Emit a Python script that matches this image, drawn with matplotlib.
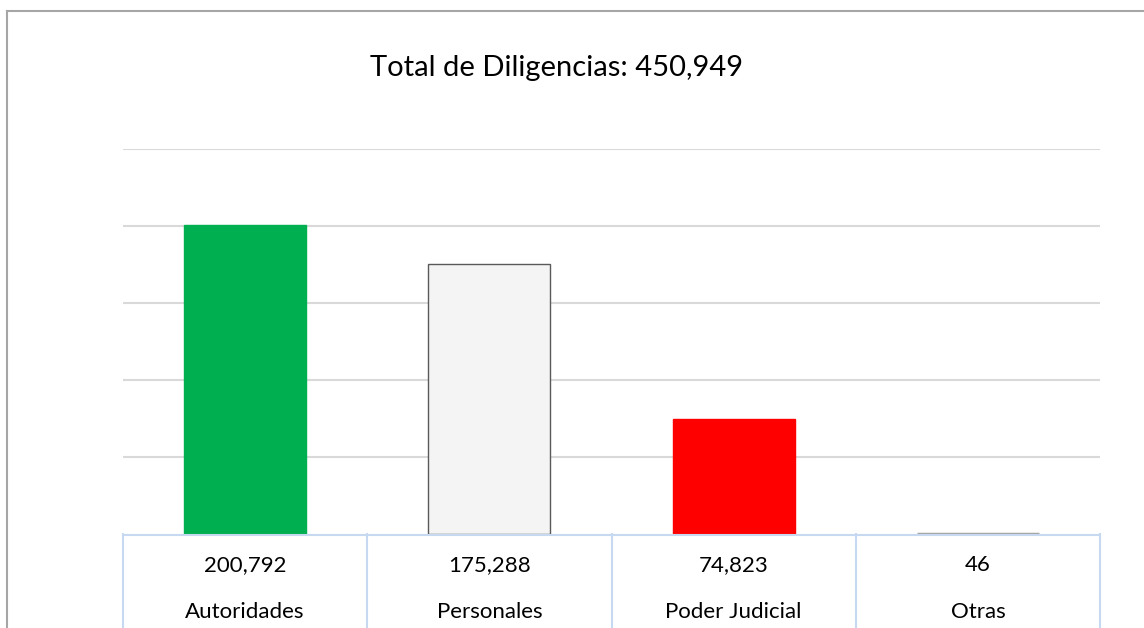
import matplotlib.pyplot as plt
from matplotlib.lines import Line2D
import matplotlib.transforms as mtransforms

categorias = ["Autoridades", "Personales", "Poder Judicial", "Otras"]
valores = [200792, 175288, 74823, 46]
colores = ["#00b050", "#f4f4f4", "#ff0000", "#a6a6a6"]
bordes = ["#00b050", "#595959", "#ff0000", "#a6a6a6"]
total = 450949

plt.rcParams['font.family'] = ['Lato', 'DejaVu Sans']

fig = plt.figure(figsize=(11.44, 6.28), dpi=100)
ax = fig.add_axes([123/1144, 94/628, 977/1144, 385/628])

x = list(range(len(categorias)))
ax.bar(x[:3], valores[:3], width=0.5, color=colores[:3], edgecolor=bordes[:3], linewidth=1, zorder=3)
# the tiny "Otras" bar only shows as a line above the table edge
ax.bar(x[3], valores[3], width=0.5, color=colores[3], edgecolor=bordes[3], linewidth=2.5, zorder=6)

ax.set_xlim(-0.5, len(categorias) - 0.5)
ax.set_ylim(0, 250000)
ax.set_yticks(range(50000, 250001, 50000))
ax.yaxis.grid(True, color="#d9d9d9", linewidth=1.5)
ax.set_axisbelow(True)
ax.tick_params(left=False, bottom=False, labelleft=False, labelbottom=False)
for s in ax.spines.values():
    s.set_visible(False)

# data table below the axis
tr = mtransforms.blended_transform_factory(ax.transData, ax.transAxes)
borde_tabla = "#c6d9f1"
ax.add_line(Line2D([-0.5, 3.5], [-0.002, -0.002], transform=tr, color=borde_tabla, lw=1.5, clip_on=False, zorder=4))
for b in [-0.5, 0.5, 1.5, 2.5, 3.5]:
    ax.add_line(Line2D([b, b], [0, -0.3], transform=tr, color=borde_tabla, lw=1.5, clip_on=False))
for i, (c, v) in enumerate(zip(categorias, valores)):
    ax.text(i, -0.08, f"{v:,}", transform=tr, ha="center", va="center", fontsize=16)
    ax.text(i, -0.203, c, transform=tr, ha="center", va="center", fontsize=16)

fig.text(557/1144, 1 - 68/628, f"Total de Diligencias: {total:,}", ha="center", va="center", fontsize=21)

# chart frame
fig.add_artist(Line2D([7/1144, 7/1144], [0, 1 - 11/628], color="#a6a6a6", lw=1.5))
fig.add_artist(Line2D([7/1144, 1], [1 - 11/628, 1 - 11/628], color="#a6a6a6", lw=1.5))

fig.savefig("out.png", dpi=100)
